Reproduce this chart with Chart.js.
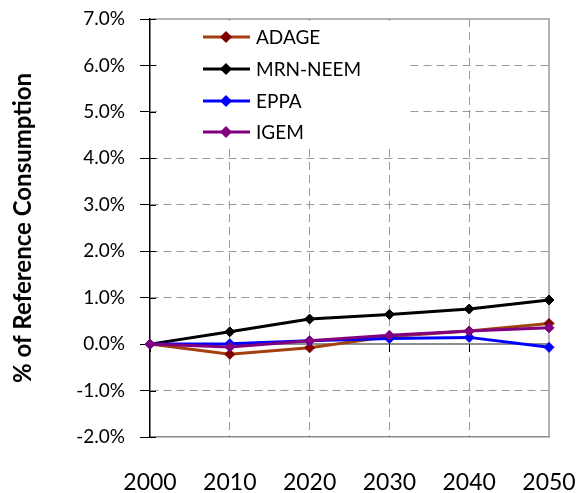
<!DOCTYPE html>
<html>
<head>
<meta charset="utf-8">
<script src="https://cdn.jsdelivr.net/npm/chart.js@4/dist/chart.umd.min.js"></script>
<style>
  html, body { margin: 0; padding: 0; background: #fff; }
  #wrap { width: 579px; height: 493px; }
</style>
</head>
<body>
<div id="wrap"><canvas id="chart" width="579" height="493"></canvas></div>
<script>
// change in consumption, % of reference, by model
const years = ['2000', '2010', '2020', '2030', '2040', '2050'];
const adage = [0, -0.22, -0.08, 0.165, 0.28, 0.445];
const mrnNeem = [0, 0.265, 0.54, 0.64, 0.755, 0.95];
const eppa = [0, 0.01, 0.07, 0.12, 0.145, -0.07];
const igem = [0, -0.06, 0.07, 0.19, 0.28, 0.35];
const yMin = -2;
const yMax = 7;
const yStep = 1;

const FONT = 'Lato, "Open Sans", sans-serif';

function series(label, data, line, marker, order) {
  return {
    label: label,
    data: data,
    borderColor: line,
    backgroundColor: marker,
    pointBackgroundColor: marker,
    pointBorderColor: marker,
    borderWidth: 3,
    pointStyle: 'rectRot',
    pointRadius: 5,
    pointBorderWidth: 1,
    tension: 0,
    clip: false,
    order: order
  };
}

// frame, zero line, inner ticks and the boxed legend
const decorations = {
  id: 'decorations',
  beforeDatasetsDraw(chart) {
    const { ctx, chartArea: a, scales: { x, y } } = chart;
    ctx.save();

    // top and right edges of the plot
    ctx.strokeStyle = '#9a9a9a';
    ctx.lineWidth = 1.5;
    ctx.beginPath();
    ctx.moveTo(a.left, a.top);
    ctx.lineTo(a.right, a.top);
    ctx.lineTo(a.right, a.bottom);
    ctx.stroke();

    // legend box sits on top of the grid
    ctx.fillStyle = '#fff';
    ctx.fillRect(a.left + 7, a.top + 2, 252, 126);

    // solid line at zero with the year ticks hanging below it
    const y0 = y.getPixelForValue(0);
    ctx.strokeStyle = '#6a6a6a';
    ctx.lineWidth = 1.5;
    ctx.beginPath();
    ctx.moveTo(a.left, y0);
    ctx.lineTo(a.right, y0);
    ctx.stroke();
    ctx.strokeStyle = '#000';
    ctx.lineWidth = 1;
    x.ticks.forEach((t, i) => {
      const px = Math.round(x.getPixelForTick(i)) + 0.5;
      ctx.beginPath();
      ctx.moveTo(px, y0);
      ctx.lineTo(px, y0 + 8);
      ctx.stroke();
    });

    // y ticks cross the axis a little
    y.ticks.forEach((t) => {
      const py = Math.round(y.getPixelForValue(t.value)) + 0.5;
      ctx.beginPath();
      ctx.moveTo(a.left, py);
      ctx.lineTo(a.left + 6, py);
      ctx.stroke();
    });

    const rowY = [37, 69, 101, 132];
    ctx.font = '19px ' + FONT;
    ctx.textBaseline = 'middle';
    ctx.textAlign = 'left';
    chart.data.datasets.forEach((ds, i) => {
      const ly = rowY[i];
      ctx.strokeStyle = ds.borderColor;
      ctx.lineWidth = 3;
      ctx.beginPath();
      ctx.moveTo(203, ly);
      ctx.lineTo(250, ly);
      ctx.stroke();
      ctx.fillStyle = ds.pointBackgroundColor;
      ctx.beginPath();
      ctx.moveTo(226, ly - 6);
      ctx.lineTo(232, ly);
      ctx.lineTo(226, ly + 6);
      ctx.lineTo(220, ly);
      ctx.closePath();
      ctx.fill();
      ctx.fillStyle = '#000';
      ctx.fillText(ds.label, 256, ly + 1);
    });

    ctx.restore();
  }
};

const hidden = 'rgba(0,0,0,0)';

new Chart(document.getElementById('chart'), {
  type: 'line',
  data: {
    labels: years,
    datasets: [
      series('ADAGE', adage, '#a3410e', '#800000', 4),
      series('MRN-NEEM', mrnNeem, '#000000', '#000000', 3),
      series('EPPA', eppa, '#0000ff', '#0000ff', 2),
      series('IGEM', igem, '#800080', '#800080', 1)
    ]
  },
  options: {
    responsive: false,
    animation: false,
    layout: { padding: { left: 0, top: 19, right: 30, bottom: 0 } },
    plugins: {
      legend: { display: false },
      tooltip: { enabled: false }
    },
    scales: {
      x: {
        type: 'category',
        offset: false,
        grid: {
          color: (c) => (c.index === 0 || c.index === years.length - 1) ? hidden : '#9a9a9a',
          lineWidth: 1,
          drawTicks: false
        },
        border: { display: true, color: '#8a8a8a', width: 1.5, dash: [8, 5] },
        ticks: {
          color: '#000',
          font: { family: FONT, size: 23 },
          padding: 32,
          maxRotation: 0
        },
        afterFit: (s) => { s.height = 56; s.paddingLeft = 0; s.paddingRight = 0; }
      },
      y: {
        min: yMin,
        max: yMax,
        grid: {
          color: (c) => (c.tick && (c.tick.value === yMin || c.tick.value === 0 || c.tick.value === yMax)) ? hidden : '#9a9a9a',
          lineWidth: 1,
          tickColor: '#000',
          tickLength: 10,
          tickWidth: 1
        },
        border: { display: true, color: '#000', width: 1.5, dash: [8, 5] },
        ticks: {
          stepSize: yStep,
          color: '#000',
          font: { family: FONT, size: 19 },
          padding: 15,
          callback: (v) => v.toFixed(1) + '%'
        },
        title: {
          display: true,
          text: '% of Reference Consumption',
          color: '#000',
          font: { family: FONT, size: 24, weight: 'bold' },
          padding: { top: 9, bottom: 0 }
        },
        afterFit: (s) => { s.width = 150; s.paddingTop = 0; s.paddingBottom = 0; }
      }
    }
  },
  plugins: [decorations]
});
</script>
</body>
</html>
